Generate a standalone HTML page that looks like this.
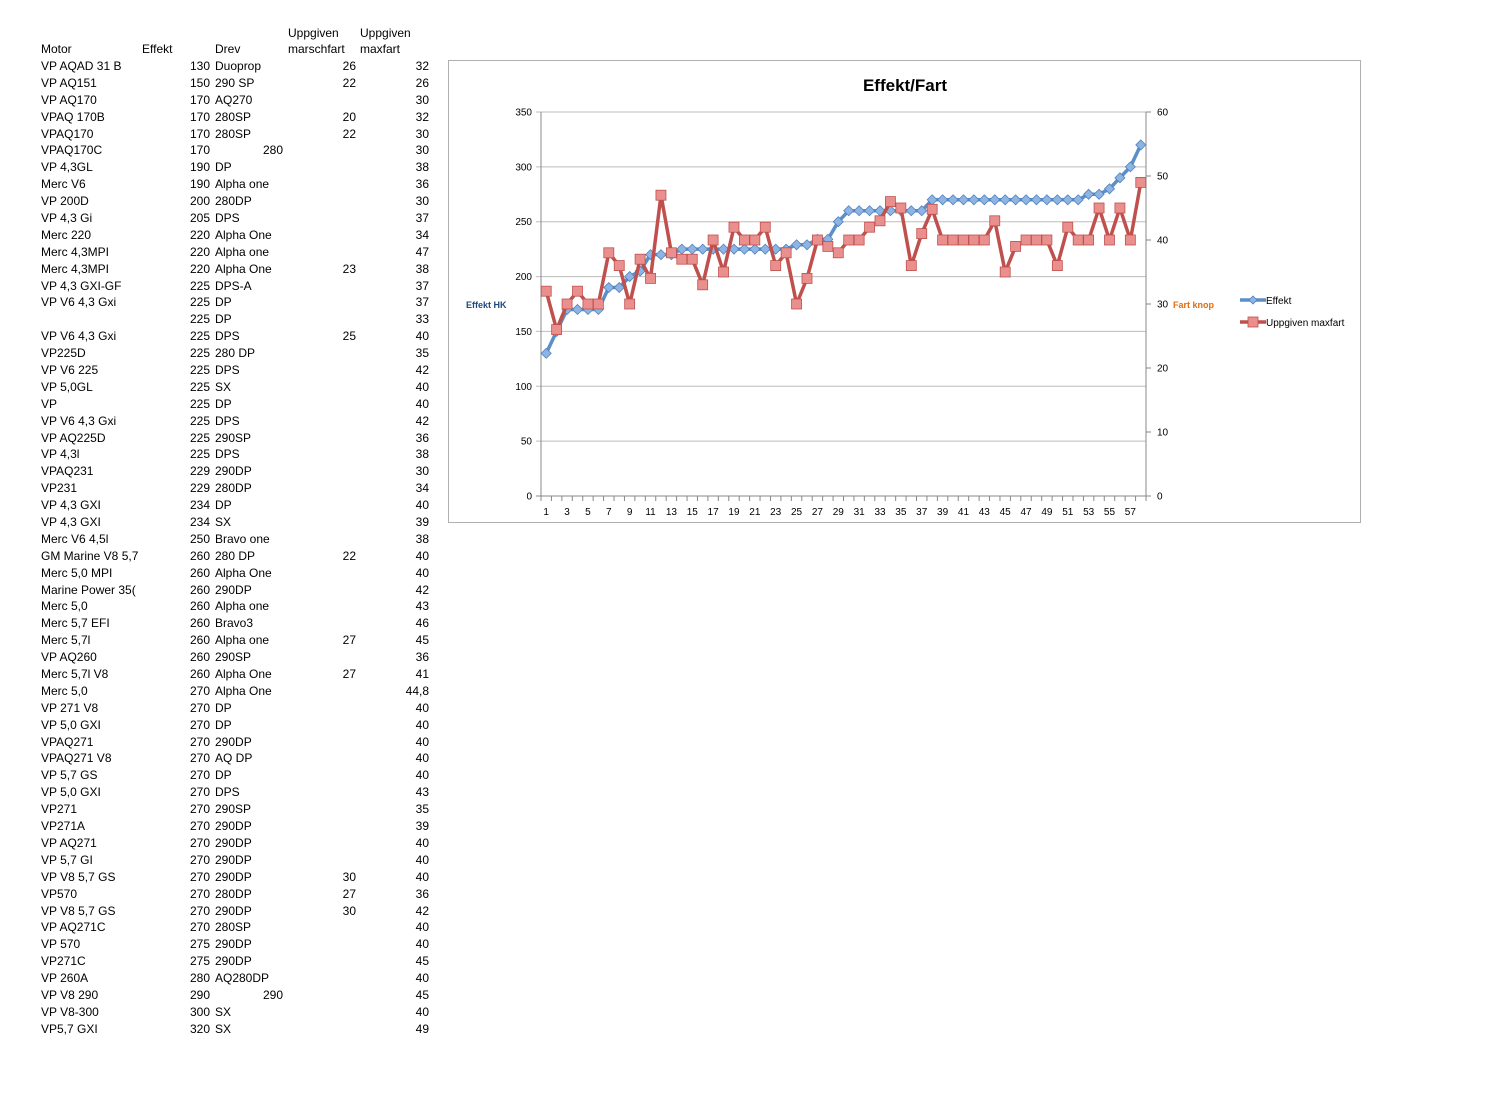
<!DOCTYPE html>
<html><head><meta charset="utf-8"><style>
body{margin:0;width:1500px;height:1108px;background:#fff;font-family:"Liberation Sans",sans-serif;position:relative;overflow:hidden}
.t{position:absolute;font-size:12px;color:#000;white-space:nowrap;line-height:14px}
.r{text-align:right}
</style></head><body>
<div id="tbl"></div>
<svg id="ch" width="1500" height="1108" style="position:absolute;left:0;top:0" xmlns="http://www.w3.org/2000/svg"></svg>
<script>
var rows=[
["VP AQAD 31 B","130","Duoprop","26","32"],["VP AQ151","150","290 SP","22","26"],["VP AQ170","170","AQ270","","30"],["VPAQ 170B","170","280SP","20","32"],["VPAQ170","170","280SP","22","30"],["VPAQ170C","170L","280#","","30"],["VP 4,3GL","190","DP","","38"],["Merc V6","190","Alpha one","","36"],["VP 200D","200","280DP","","30"],["VP 4,3 Gi","205","DPS","","37"],["Merc 220","220","Alpha One","","34"],["Merc 4,3MPI","220","Alpha one","","47"],["Merc 4,3MPI","220","Alpha One","23","38"],["VP 4,3 GXI-GF","225","DPS-A","","37"],["VP V6 4,3 Gxi","225","DP","","37"],["","225","DP","","33"],["VP V6 4,3 Gxi","225","DPS","25","40"],["VP225D","225","280 DP","","35"],["VP V6 225","225","DPS","","42"],["VP 5,0GL","225","SX","","40"],["VP","225","DP","","40"],["VP V6 4,3 Gxi","225","DPS","","42"],["VP AQ225D","225","290SP","","36"],["VP 4,3l","225","DPS","","38"],["VPAQ231","229","290DP","","30"],["VP231","229","280DP","","34"],["VP 4,3 GXI","234","DP","","40"],["VP 4,3 GXI","234","SX","","39"],["Merc V6 4,5l","250","Bravo one","","38"],["GM Marine V8 5,7","260","280 DP","22","40"],["Merc 5,0 MPI","260","Alpha One","","40"],["Marine Power 35(","260","290DP","","42"],["Merc 5,0","260","Alpha one","","43"],["Merc 5,7 EFI","260","Bravo3","","46"],["Merc 5,7l","260","Alpha one","27","45"],["VP AQ260","260","290SP","","36"],["Merc 5,7l V8","260","Alpha One","27","41"],["Merc 5,0","270","Alpha One","","44,8"],["VP 271 V8","270","DP","","40"],["VP 5,0 GXI","270","DP","","40"],["VPAQ271","270","290DP","","40"],["VPAQ271 V8","270","AQ DP","","40"],["VP 5,7 GS","270","DP","","40"],["VP 5,0 GXI","270","DPS","","43"],["VP271","270","290SP","","35"],["VP271A","270","290DP","","39"],["VP AQ271","270","290DP","","40"],["VP 5,7 GI","270","290DP","","40"],["VP V8 5,7 GS","270","290DP","30","40"],["VP570","270","280DP","27","36"],["VP V8 5,7 GS","270","290DP","30","42"],["VP AQ271C","270","280SP","","40"],["VP 570","275","290DP","","40"],["VP271C","275","290DP","","45"],["VP 260A","280","AQ280DP","","40"],["VP V8 290","290L","290#","","45"],["VP V8-300","300","SX","","40"],["VP5,7 GXI","320","SX","","49"]];
var h='';
function d(x,y,s,cls,w){return '<div class="t'+(cls?' '+cls:'')+'" style="left:'+x+'px;top:'+y+'px;'+(w?'width:'+w+'px;':'')+'">'+s+'</div>';}
h+=d(288,26,"Uppgiven")+d(360,26,"Uppgiven")+d(41,42,"Motor")+d(142,42,"Effekt")+d(215,42,"Drev")+d(288,42,"marschfart")+d(360,42,"maxfart");
var E=[],M=[];
rows.forEach(function(r,i){var y=59+i*16.89;
h+=d(41,y,r[0]);
var ef=r[1];
if(ef.slice(-1)=="L"){ef=ef.slice(0,-1);h+=d(190,y,ef);}else h+=d(150,y,ef,"r",60);
E.push(+ef);
var dv=r[2];
if(dv.slice(-1)=="#"){h+=d(233,y,dv.slice(0,-1),"r",50);}else h+=d(215,y,dv);
if(r[3])h+=d(306,y,r[3],"r",50);
h+=d(379,y,r[4],"r",50);
M.push(parseFloat(r[4].replace(',','.')));
});
document.getElementById('tbl').innerHTML=h;
var s='<rect x="448.5" y="60.5" width="912" height="462" fill="#fff" stroke="#b0b0b0"/>';
s+='<text x="905" y="91" text-anchor="middle" font-size="17" font-weight="bold" font-family="Liberation Sans">Effekt/Fart</text>';
var X0=541,W=605,Y0=496,H=384,cw=W/58;
for(var i=0;i<=7;i++){var y=Y0-i*H/7;s+='<line x1="'+(X0-5)+'" x2="'+(X0+W)+'" y1="'+y+'" y2="'+y+'" stroke="'+(i==0?'#888':'#bdbdbd')+'"/>';
s+='<text x="532" y="'+(y+3.5)+'" text-anchor="end" font-size="10" font-family="Liberation Sans">'+(i*50)+'</text>';}
for(var i=0;i<=6;i++){var y=Y0-i*H/6;s+='<line x1="'+(X0+W)+'" x2="'+(X0+W+5)+'" y1="'+y+'" y2="'+y+'" stroke="#888"/>';
s+='<text x="1157" y="'+(y+3.5)+'" font-size="10" font-family="Liberation Sans">'+(i*10)+'</text>';}
s+='<line x1="'+X0+'" x2="'+X0+'" y1="'+(Y0-H)+'" y2="'+Y0+'" stroke="#888"/>';
s+='<line x1="'+(X0+W)+'" x2="'+(X0+W)+'" y1="'+(Y0-H)+'" y2="'+Y0+'" stroke="#888"/>';
for(var i=0;i<=58;i++){var x=X0+i*cw;s+='<line x1="'+x+'" x2="'+x+'" y1="'+Y0+'" y2="'+(Y0+5)+'" stroke="#888"/>';}
for(var i=1;i<=58;i+=2){s+='<text x="'+(X0+(i-0.5)*cw)+'" y="515" text-anchor="middle" font-size="10" font-family="Liberation Sans">'+i+'</text>';}
var pe='',pm='';
E.forEach(function(v,i){pe+=(i?'L':'M')+(X0+(i+0.5)*cw).toFixed(1)+','+(Y0-v*H/350).toFixed(1);});
M.forEach(function(v,i){pm+=(i?'L':'M')+(X0+(i+0.5)*cw).toFixed(1)+','+(Y0-v*H/60).toFixed(1);});
s+='<path d="'+pe+'" fill="none" stroke="#5b8fc9" stroke-width="3.5" stroke-linejoin="round"/>';
E.forEach(function(v,i){var x=X0+(i+0.5)*cw,y=Y0-v*H/350;s+='<path d="M'+x+','+(y-5)+'L'+(x+5)+','+y+'L'+x+','+(y+5)+'L'+(x-5)+','+y+'Z" fill="#8db4e2" stroke="#4f81bd" stroke-width="0.8"/>';});
s+='<path d="'+pm+'" fill="none" stroke="#c0504d" stroke-width="3.5" stroke-linejoin="round"/>';
M.forEach(function(v,i){var x=X0+(i+0.5)*cw,y=Y0-v*H/60;s+='<rect x="'+(x-5)+'" y="'+(y-5)+'" width="10" height="10" fill="#e9908e" stroke="#c0504d" stroke-width="0.8"/>';});
s+='<text x="466" y="308" font-size="9" font-weight="bold" fill="#1f497d" font-family="Liberation Sans">Effekt HK</text>';
s+='<text x="1173" y="308" font-size="9" font-weight="bold" fill="#e46c0a" font-family="Liberation Sans">Fart knop</text>';
s+='<line x1="1240" x2="1266" y1="300" y2="300" stroke="#5b8fc9" stroke-width="3.5"/><path d="M1253,296L1257,300L1253,304L1249,300Z" fill="#8db4e2" stroke="#4f81bd" stroke-width="0.8"/>';
s+='<text x="1266" y="304" font-size="10" font-family="Liberation Sans">Effekt</text>';
s+='<line x1="1240" x2="1266" y1="322" y2="322" stroke="#c0504d" stroke-width="3.5"/><rect x="1248" y="317" width="10" height="10" fill="#e9908e" stroke="#c0504d" stroke-width="0.8"/>';
s+='<text x="1266" y="326" font-size="10" font-family="Liberation Sans">Uppgiven maxfart</text>';
document.getElementById('ch').innerHTML=s;
</script>
</body></html>
